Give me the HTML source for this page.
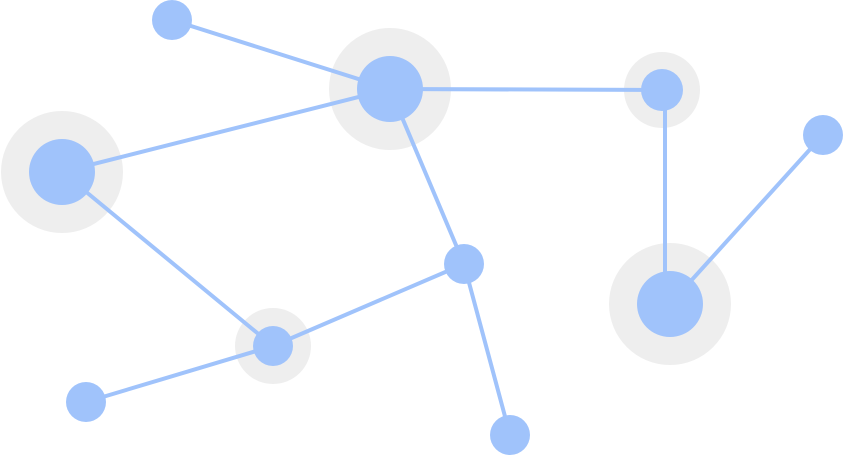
<!DOCTYPE html>
<html><head><meta charset="utf-8"><style>
html,body{margin:0;padding:0;background:#fff;}
svg{display:block;}
</style></head><body>
<svg width="844" height="456" viewBox="0 0 844 456" xmlns="http://www.w3.org/2000/svg">
<g fill="#eeeeee">
<circle cx="390" cy="89" r="61"/>
<circle cx="62" cy="172" r="61"/>
<circle cx="670" cy="304" r="61"/>
<circle cx="662" cy="90" r="38"/>
<circle cx="273" cy="346" r="38"/>
</g>
<g stroke="#a0c3fb" stroke-width="4" stroke-linecap="round">
<line x1="172" y1="20" x2="390" y2="89"/>
<line x1="390" y1="89" x2="62" y2="172"/>
<line x1="390" y1="89" x2="662" y2="90"/>
<line x1="390" y1="89" x2="464" y2="264"/>
<line x1="665" y1="90" x2="665" y2="300"/>
<line x1="823" y1="135" x2="670" y2="304"/>
<line x1="62" y1="172" x2="273" y2="346"/>
<line x1="273" y1="346" x2="464" y2="264"/>
<line x1="273" y1="346" x2="86" y2="402"/>
<line x1="464" y1="264" x2="510" y2="435"/>
</g>
<g fill="#a0c3fb">
<circle cx="172" cy="20" r="20"/>
<circle cx="390" cy="89" r="33"/>
<circle cx="662" cy="90" r="21"/>
<circle cx="823" cy="135" r="20"/>
<circle cx="62" cy="172" r="33"/>
<circle cx="464" cy="264" r="20"/>
<circle cx="670" cy="304" r="33"/>
<circle cx="273" cy="346" r="20"/>
<circle cx="86" cy="402" r="20"/>
<circle cx="510" cy="435" r="20"/>
</g>
</svg>
</body></html>
